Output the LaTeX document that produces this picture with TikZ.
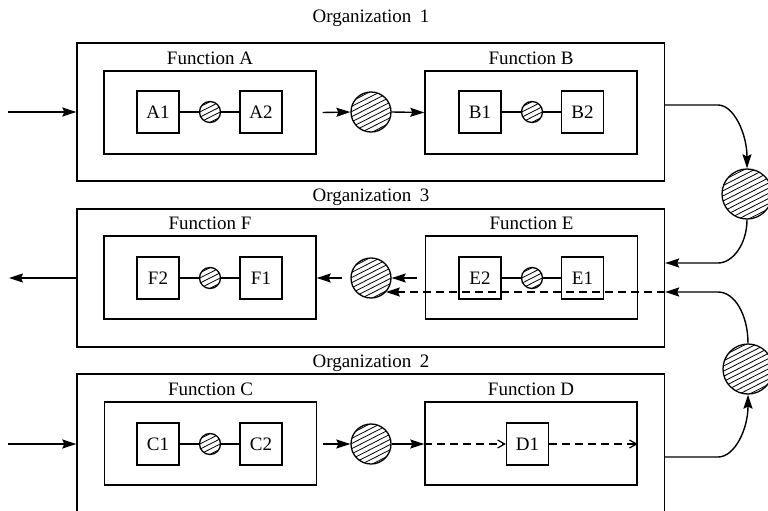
\documentclass[tikz,border=0pt]{standalone}
\usepackage{fontspec}
\setmainfont{Liberation Serif}
\usetikzlibrary{arrows.meta,calc}
\tikzset{
  every node/.style={font=\fontsize{19}{22}\selectfont, inner sep=0pt},
  frame/.style={draw, rectangle, line width=1.35pt},
  orgbox/.style={frame, minimum width=587.5pt, minimum height=#1},
  funcbox/.style={frame, minimum width=212pt, minimum height=83pt},
  unitbox/.style={frame, minimum width=42pt, minimum height=42pt},
  disc/.style={circle, draw, line width=1.3pt, minimum size=#1,
    path picture={
      \foreach \k in {-6,...,6}{
        \draw[line width=0.8pt]
          ($(path picture bounding box.center)+(117:\k*4.6pt)+(207:32pt)$) --
          ($(path picture bounding box.center)+(117:\k*4.6pt)+(27:32pt)$);}}},
  flow/.style={line width=1.4pt, -{Stealth[length=14pt,width=9pt,inset=2pt]}},
  link/.style={line width=1.2pt},
  dflow/.style={line width=1.4pt, dash pattern=on 8pt off 5pt, -{Straight Barb[length=7pt,width=8pt,line width=1.2pt]}},
  dfilled/.style={line width=1.4pt, dash pattern=on 8pt off 5pt, -{Stealth[length=14pt,width=9pt,inset=2pt]}},
  ftitle/.style={anchor=base}
}
\begin{document}
\begin{tikzpicture}[x=1pt, y=-1pt]
\clip (0,0) rectangle (768,511);

% organizations
\node[orgbox=138pt] (org1) at (370.75,112) {};
\node[orgbox=138pt] (org3) at (370.75,278) {};
\node[orgbox=148pt] (org2) at (370.75,448) {};
\node[ftitle] (t1) at (371,23) {Organization\hspace{0.45em}1};
\node[ftitle] (t3) at (371,201) {Organization\hspace{0.45em}3};
\node[ftitle] (t2) at (371,367) {Organization\hspace{0.45em}2};

% functions
\node[funcbox] (fA) at (210,112.5) {};
\node[funcbox] (fB) at (531,112.5) {};
\node[funcbox] (fF) at (210,277.5) {};
\node[funcbox] (fE) at (531.5,277.5) {};
\node[funcbox] (fC) at (210.5,443.5) {};
\node[funcbox] (fD) at (531,443.5) {};
\foreach \f/\t in {fA/A, fB/B, fF/F, fE/E, fC/C, fD/D}
  \node[ftitle] (l\f) at ([yshift=5.5pt]\f.north) {Function \t};

% units and local stores
\node[unitbox] (A1) at (158,112) {A1};
\node[disc=21pt] (sA) at (210,112) {};
\node[unitbox] (A2) at (261,112) {A2};
\node[unitbox] (B1) at (480,112) {B1};
\node[disc=21pt] (sB) at (532,112) {};
\node[unitbox] (B2) at (582.5,112) {B2};
\node[unitbox] (F2) at (158,278) {F2};
\node[disc=21pt] (sF) at (210,278) {};
\node[unitbox] (F1) at (261,278) {F1};
\node[unitbox] (E2) at (480,278) {E2};
\node[disc=21pt] (sE) at (532,278) {};
\node[unitbox] (E1) at (582.5,278) {E1};
\node[unitbox] (C1) at (158,444) {C1};
\node[disc=21pt] (sC) at (210,444) {};
\node[unitbox] (C2) at (261,444) {C2};
\node[unitbox] (D1) at (527.5,444) {D1};

\draw[link] (A1) -- (sA) -- (A2);
\draw[link] (B1) -- (sB) -- (B2);
\draw[link] (F2) -- (sF) -- (F1);
\draw[link] (E2) -- (sE) -- (E1);
\draw[link] (C1) -- (sC) -- (C2);

% stores between functions
\node[disc=40pt] (cAB) at (371,112) {};
\node[disc=40pt] (cEF) at (371,278) {};
\node[disc=40pt] (cCD) at (371,444) {};
\node[disc=50pt] (rTop) at (747,194) {};
\node[disc=50pt] (rBot) at (748,369) {};

% flows inside organizations
\draw[flow] ([xshift=6pt]fA.east) -- (cAB.west);
\draw[flow] (cAB.east) -- (fB.west);
\draw[flow] ([xshift=6pt]fC.east |- cCD.west) -- (cCD.west);
\draw[flow] (cCD.east) -- (fD.west |- cCD.east);
\draw[flow] ([xshift=-8pt]fE.west |- cEF.east) -- (cEF.east);
\draw[flow] ([xshift=-8pt]cEF.west) -- (fF.east |- cEF.west);
\draw[dflow] (fD.west |- D1.west) -- (D1.west);
\draw[dflow] (D1.east) -- (fD.east |- D1.east);

% external inputs and output
\coordinate (inA) at (8,112);
\coordinate (inC) at (8,444);
\coordinate (outF) at (9,278);
\draw[flow] (inA) -- (org1.west |- inA);
\draw[flow] (inC) -- (org2.west |- inC);
\draw[flow] (org3.west |- outF) -- (outF);

% flows between organizations
\coordinate (k1) at (718,105);
\coordinate (k2) at (718,263);
\coordinate (k3) at (718,292);
\coordinate (k4) at (718,457);
\draw[flow] (org1.east |- k1) -- (k1) .. controls +(16,0) and +(0,-34) .. (rTop.north);
\draw[flow] (rTop.south) .. controls +(0,24) and +(15,0) .. (k2) -- (org3.east |- k2);
\draw[flow] (rBot.north) .. controls +(0,-28) and +(17,0) .. (k3) -- (org3.east |- k3);
\draw[flow] (org2.east |- k4) -- (k4) .. controls +(17,0) and +(0,34) .. (rBot.south);
\draw[dfilled] (org3.east |- k3) -- (cEF.-44 |- k3);
\end{tikzpicture}
\end{document}
